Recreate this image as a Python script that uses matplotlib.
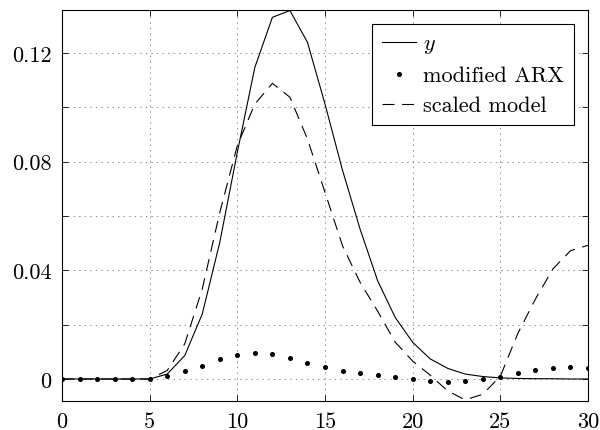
import matplotlib
matplotlib.use("Agg")
import matplotlib.pyplot as plt
import numpy as np

plt.rcParams['font.family'] = 'serif'
plt.rcParams['font.serif'] = ['cmr10']
plt.rcParams['mathtext.fontset'] = 'cm'
plt.rcParams['axes.formatter.use_mathtext'] = True
plt.rcParams['lines.scale_dashes'] = False

k = list(range(31))
y_meas = [0, 0, 0, 0, 0, 0, 0.0018, 0.0086, 0.0239, 0.0503, 0.0834, 0.1147, 0.1331,
          0.1356, 0.1239, 0.1012, 0.0768, 0.0552, 0.0362, 0.0227, 0.0135, 0.0074,
          0.0039, 0.0018, 0.0009, 0.0004, 0.0002, 0.0001, 0.0001, 0.0, 0.0]
arx = [0, 0, 0, 0, 0, 0, 0.0012, 0.0028, 0.0049, 0.0072, 0.0090, 0.0096, 0.0091,
       0.0077, 0.0060, 0.0043, 0.0031, 0.0021, 0.0015, 0.0006, 0.0, -0.0006,
       -0.0010, -0.0007, 0.0, 0.0009, 0.0021, 0.0033, 0.0042, 0.0043, 0.0040]
scaled = [0, 0, 0, 0, 0, 0, 0.0031, 0.0129, 0.0331, 0.0613, 0.0859, 0.1012, 0.1088,
          0.1037, 0.0883, 0.0687, 0.0490, 0.0356, 0.0250, 0.0136, 0.0066, 0.0014,
          -0.0044, -0.0077, -0.0056, 0.0010, 0.0168, 0.0294, 0.0405, 0.0472, 0.0492]

xticks = [0, 5, 10, 15, 20, 25, 30]
yticks = [0, 0.02, 0.04, 0.06, 0.08, 0.10, 0.12]
ylabels = ['0', '', '0.04', '', '0.08', '', '0.12']

fig = plt.figure(figsize=(6.0, 4.31), dpi=100)
ax = fig.add_axes([0.1033, 0.0673, 0.8767, 0.9072])

ax.plot(k, y_meas, color='black', lw=0.8, label='$y$')
ax.plot(k, arx, linestyle='none', marker='o', color='black', markersize=2.6,
        label='modified ARX')
ax.plot(k, scaled, color='black', lw=0.8, dashes=(8.6, 5.5), label='scaled model')

ax.set_xlim(0, 30)
ax.set_ylim(-0.0081, 0.1358)
ax.set_xticks(xticks)
ax.set_xticklabels([str(t) for t in xticks])
ax.set_yticks(yticks)
ax.set_yticklabels(ylabels)
ax.tick_params(direction='in', top=True, right=True, length=4, width=0.6,
               labelsize=16, pad=7.5)
ax.grid(True, linestyle=(0, (1, 3)), color='#777777', lw=0.6)
for s in ax.spines.values():
    s.set_linewidth(0.8)

leg = ax.legend(loc='upper right', fontsize=16, fancybox=False, framealpha=1,
                edgecolor='black', handlelength=1.5, handletextpad=0.35,
                borderaxespad=0.62, labelspacing=0.47, borderpad=0.45)
leg.get_frame().set_linewidth(0.8)

fig.savefig('out.png', dpi=100)
